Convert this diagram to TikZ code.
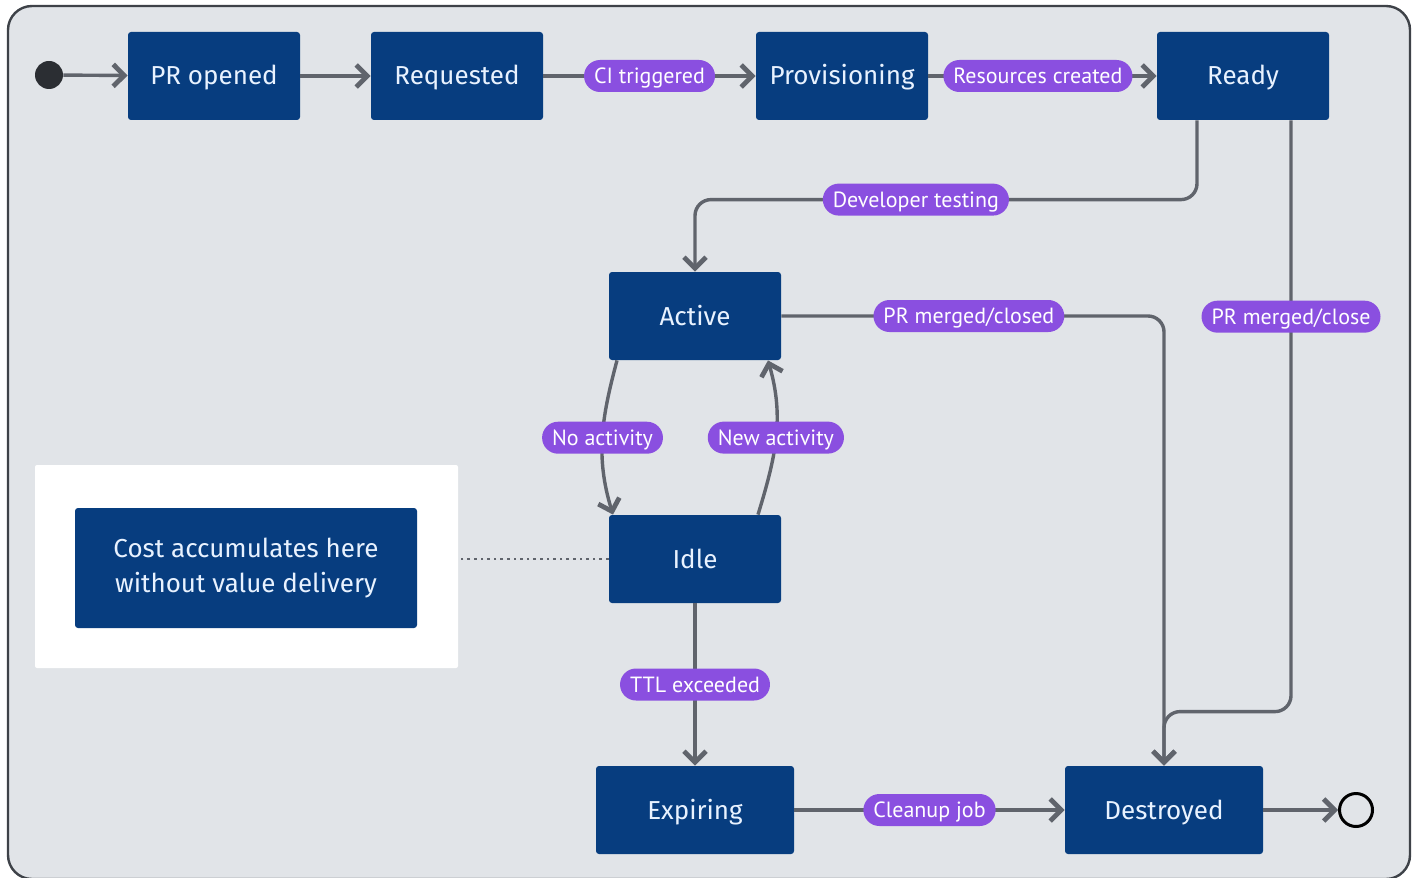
\documentclass[tikz,border=0pt]{standalone}
\usepackage{fontspec}
\setmainfont{Fira Sans}
\newfontfamily\lblfont{PT Sans}
\usetikzlibrary{arrows.meta}

\definecolor{bggray}{RGB}{225,228,232}
\definecolor{framegray}{RGB}{62,66,72}
\definecolor{boxblue}{RGB}{7,61,127}
\definecolor{boxtext}{RGB}{232,242,255}
\definecolor{lblpurple}{RGB}{138,79,224}
\definecolor{edgegray}{RGB}{96,100,108}
\definecolor{dotgray}{RGB}{43,46,51}

\begin{document}
\begin{tikzpicture}[x=0.5pt, y=-0.5pt,
  state/.style={fill=boxblue, text=boxtext, rounded corners=1.5pt,
                minimum width=86pt, minimum height=44pt,
                text height=9pt, text depth=0pt,
                font=\fontsize{13}{17.5}\selectfont},
  lbl/.style={fill=lblpurple, text=white, rounded corners=8pt,
              minimum height=16pt, inner xsep=5pt, inner ysep=0pt,
              text height=7.8pt, text depth=0pt,
              font=\lblfont\fontsize{11}{12}\selectfont},
  edge/.style={draw=edgegray, line width=1.7pt, rounded corners=8pt,
               -{Straight Barb[length=5.5pt, width=11pt, line width=2.4pt]}}]

\useasboundingbox (0,0) rectangle (1416,877);

% rahmen
\draw[framegray, fill=bggray, line width=1.2pt, rounded corners=12pt]
  (8,6) rectangle (1410,879);

% zustaende
\node[circle, fill=dotgray, minimum size=14pt, inner sep=0pt] (start) at (49,75) {};
\node[state] (pr) at (214,76) {PR opened};
\node[state] (req) at (457,76) {Requested};
\node[state] (prov) at (842,76) {Provisioning};
\node[state] (ready) at (1243,76) {Ready};
\node[state] (act) at (695,316) {Active};
\node[state] (idle) at (695,559) {Idle};
\node[state, minimum width=99pt] (exp) at (695,810) {Expiring};
\node[state, minimum width=99pt] (destr) at (1164,810) {Destroyed};
\node[circle, draw=black, line width=1.5pt, minimum size=16.5pt, inner sep=0pt] (fin) at (1356,810) {};

% hinweis
\node[fill=white, rounded corners=1pt, minimum width=211.5pt,
      minimum height=101.5pt] (notepanel) at (246.5,566.5) {};
\node[state, minimum width=171pt, minimum height=60pt, align=center, text height=, text depth=]
  (note) at (246,568) {Cost accumulates here\\without value delivery};

% uebergaenge
\draw[edge] (start) -- (pr);
\draw[edge] (pr) -- (req);
\draw[edge] (req) -- node[lbl] {CI triggered} (prov);
\draw[edge] (prov) -- node[lbl, pos=0.48] {Resources created} (ready);
\draw[edge] ([xshift=-23pt]ready.south) |- ([yshift=36pt]act.north)
  node[lbl, pos=0.78] {Developer testing} -- (act.north);
\draw[edge] (act.east) -| node[lbl, pos=0.245] {PR merged/closed} (destr.north);
\draw[edge] ([xshift=24pt]ready.south) |- ([yshift=27pt]destr.north)
  node[lbl, pos=0.166] {PR merged/close} -- (destr.north);
\draw[edge] ([xshift=-39pt]act.south) to[out=255, in=107]
  node[lbl, pos=0.5] {No activity} ([xshift=-41pt]idle.north);
\draw[edge] ([xshift=31.5pt]idle.north) to[out=73, in=-74]
  node[lbl, pos=0.5] {New activity} ([xshift=36.5pt]act.south);
\draw[edge] (idle) -- node[lbl] {TTL exceeded} (exp);
\draw[edge] (exp) -- node[lbl] {Cleanup job} (destr);
\draw[edge] (destr) -- (fin);

% gepunktete linie
\draw[edgegray, line width=1.3pt, dotted] (idle.west) -- (idle.west -| notepanel.east);

\end{tikzpicture}
\end{document}
